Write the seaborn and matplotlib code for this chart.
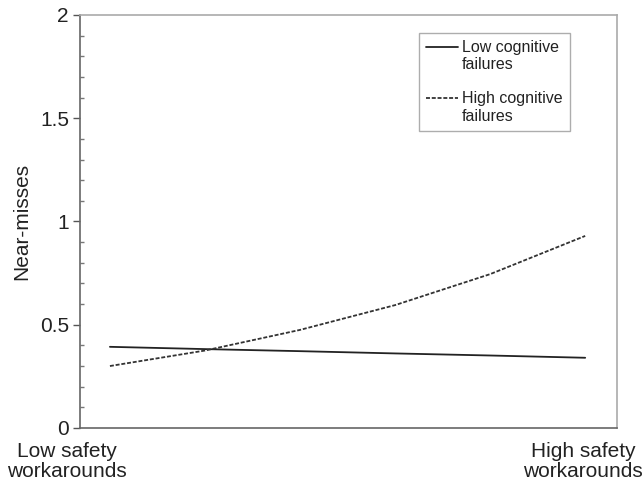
import numpy as np
import pandas as pd
import matplotlib
matplotlib.use("Agg")
import matplotlib.pyplot as plt
import seaborn as sns
from matplotlib.ticker import MultipleLocator
from matplotlib.legend_handler import HandlerLine2D

# Data
x_pos = [0.0, 0.2, 0.4, 0.6, 0.8, 1.0]
low_cf = [0.393, 0.382, 0.372, 0.361, 0.351, 0.340]
high_cf = [0.300, 0.375, 0.475, 0.595, 0.745, 0.930]
series_names = ["Low cognitive\nfailures", "High cognitive\nfailures"]
x_labels = ["Low safety\nworkarounds", "High safety\nworkarounds"]
y_ticks = [0, 0.5, 1, 1.5, 2]
y_ticklabels = ["0", "0.5", "1", "1.5", "2"]

sns.set_theme(style="white")
plt.rcParams['font.family'] = ['Liberation Sans', 'DejaVu Sans']

df = pd.DataFrame({
    "x": x_pos * 2,
    "y": low_cf + high_cf,
    "group": [series_names[0]] * len(x_pos) + [series_names[1]] * len(x_pos),
})

fig = plt.figure(figsize=(6.43, 4.88), dpi=100)
ax = fig.add_axes([0.1244, 0.123, 0.8352, 0.8463])

sns.lineplot(data=df, x="x", y="y", hue="group", style="group",
             palette=["#222222", "#333333"],
             dashes={series_names[0]: "", series_names[1]: (2.2, 1.0)},
             linewidth=1.3, ax=ax, legend=True)

ax.set_xlim(-0.063, 1.067)
ax.set_ylim(0, 2)
ax.set_yticks(y_ticks)
ax.set_yticklabels(y_ticklabels, fontsize=15, color="#222222")
ax.yaxis.set_minor_locator(MultipleLocator(0.1))
ax.tick_params(axis="y", which="major", direction="out", length=5, width=1,
               color="#555555", left=True, pad=3)
ax.tick_params(axis="y", which="minor", direction="in", length=3, width=1,
               color="#777777", left=True)
ax.set_xticks([])
ax.set_xlabel("")
ax.set_ylabel("Near-misses", fontsize=15, color="#222222", labelpad=6)

for sp in ["left", "bottom"]:
    ax.spines[sp].set_color("#666666")
    ax.spines[sp].set_linewidth(1.2)
for sp in ["top", "right"]:
    ax.spines[sp].set_color("#aaaaaa")
    ax.spines[sp].set_linewidth(1.2)

for xv, lab in zip([-0.09, 0.996], x_labels):
    ax.annotate(lab, xy=(xv, 0), xycoords=("data", "axes fraction"),
                xytext=(0, -10), textcoords="offset points",
                ha="center", va="top", fontsize=15, color="#222222",
                linespacing=1.05, annotation_clip=False)


class UpHandler(HandlerLine2D):
    def create_artists(self, legend, orig_handle, xdescent, ydescent, width,
                       height, fontsize, trans):
        arts = super().create_artists(legend, orig_handle, xdescent, ydescent,
                                      width, height, fontsize, trans)
        for a in arts:
            a.set_ydata(np.asarray(a.get_ydata()) + 0.62 * fontsize)
        return arts


handles, labels = ax.get_legend_handles_labels()
leg = ax.legend(handles, labels, loc="upper left", bbox_to_anchor=(0.631, 0.957),
                frameon=True, fancybox=False, fontsize=11.5, handlelength=2.0,
                handletextpad=0.25, labelspacing=1.2, borderpad=0.45,
                borderaxespad=0.0, title=None,
                handler_map={h: UpHandler() for h in handles})
leg.get_frame().set_edgecolor("#999999")
leg.get_frame().set_linewidth(1.0)
for t in leg.get_texts():
    t.set_linespacing(1.2)
    t.set_color("#222222")

fig.savefig("out.png", dpi=100)
